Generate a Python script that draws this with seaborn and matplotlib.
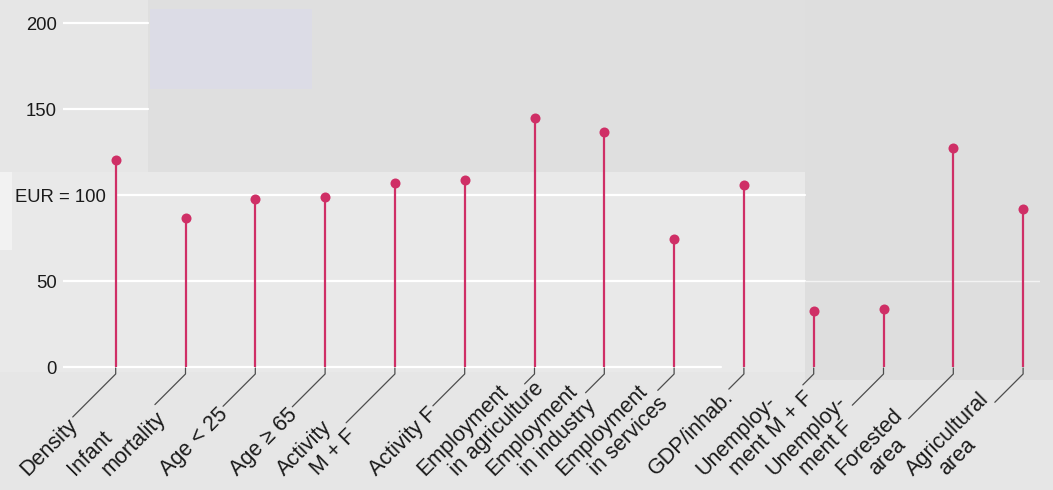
import numpy as np
import pandas as pd
import matplotlib
matplotlib.use("Agg")
import matplotlib.pyplot as plt
from matplotlib.patches import Rectangle
from matplotlib.lines import Line2D
from matplotlib.transforms import ScaledTranslation
import seaborn as sns

# === data (EUR = 100) ===
indicators = ["Density", "Infant\nmortality", "Age < 25", "Age ≥ 65",
              "Activity\nM + F", "Activity F", "Employment\nin agriculture",
              "Employment\nin industry", "Employment\nin services", "GDP/inhab.",
              "Unemploy-\nment M + F", "Unemploy-\nment F", "Forested\narea",
              "Agricultural\narea"]
values = [120.4, 86.4, 97.7, 98.7, 106.7, 108.6, 144.5, 136.4, 74.7, 105.6,
          32.6, 33.6, 127.3, 91.7]
y_ticks = [0, 50, 100, 150, 200]
y_tick_labels = ["0", "50", "EUR = 100", "150", "200"]

df = pd.DataFrame({"indicator": indicators, "value": values})

# === style ===
W, H = 1053, 490
FONT = ["Liberation Sans", "DejaVu Sans"]
FS = 13.3        # y tick labels
FS_LAB = 15.5    # category labels
stem_color = "#cf2f66"
bg = "#e6e6e6"

sns.set_style("white")
plt.rcParams["font.family"] = FONT

fig = plt.figure(figsize=(W / 100, H / 100), dpi=100, facecolor=bg)


def px_rect(x0, y0, x1, y1, color):
    # rectangle given in screen pixels (y down), drawn behind everything
    fig.patches.append(Rectangle((x0 / W, 1 - y1 / H), (x1 - x0) / W, (y1 - y0) / H,
                                 transform=fig.transFigure, color=color, zorder=-10, lw=0))


# scanned-page background tones
px_rect(0, 172, 805, 372, "#e9e9e9")
px_rect(0, 172, 12, 250, "#f2f2f2")
px_rect(148, 0, 1053, 172, "#dfdfdf")
px_rect(805, 0, 1053, 380, "#dedede")
px_rect(150, 9, 312, 89, "#dcdce6")

ax = fig.add_axes([63 / W, 1 - 372 / H, 977 / W, 372 / H])
ax.set_facecolor("none")

# partial white grid lines as in the scan
grid_spans = {200: (0, 0.087), 150: (0, 0.087), 100: (0.056, 0.759), 50: (0, 0.759), 0: (0, 0.674)}
for yv, (a, b) in grid_spans.items():
    ax.axhline(yv, a, b, color="white", lw=1.6, zorder=1)
ax.axhline(50, 0.759, 1, color="#f3f3f3", lw=1.0, zorder=1)

# === lollipops ===
ax.vlines(np.arange(len(df)), 0, df["value"], color=stem_color, lw=1.6, zorder=3)
sns.scatterplot(data=df, x="indicator", y="value", ax=ax, color=stem_color,
                s=52, linewidth=0, zorder=4, legend=False)

ax.set_xlim((63 - 115.7) / 69.8, (1040 - 115.7) / 69.8)
ax.set_ylim(-5 / 1.72, 200 + 23 / 1.72)
ax.set_xlabel("")
ax.set_ylabel("")
ax.tick_params(axis="x", labelbottom=False, length=0)
ax.tick_params(axis="y", length=0, pad=4.5, labelsize=FS, labelcolor="#1a1a1a")
ax.set_yticks(y_ticks)
ax.set_yticklabels(y_tick_labels)
for sp in ax.spines.values():
    sp.set_visible(False)

# move "EUR = 100" to the right, into the plot area
for lab in ax.get_yticklabels():
    if lab.get_text().startswith("EUR"):
        lab.set_transform(lab.get_transform() + ScaledTranslation(0.49, 0, fig.dpi_scale_trans))

# === rotated category labels with leader lines ===
renderer = fig.canvas.get_renderer()
r2 = np.sqrt(0.5)
dir_u = np.array([r2, -r2])   # along text, screen coords (y down)
dir_v = np.array([r2, r2])    # line advance
spacing, v_shift, y_start, gap, hook = 23.5, 10, 476, 2, 374


def to_fig(p):
    return p[0] / W, 1 - p[1] / H


for i, label in enumerate(indicators):
    x_t = ax.transData.transform((i, 0))[0]
    T = np.array([x_t, hook])
    lines = label.split("\n")
    n = len(lines)
    ends = []
    for k, line in enumerate(lines):
        v = (k - (n - 1) / 2) * spacing + v_shift - 4 * (n - 1)
        u = (T[1] + r2 * v - y_start) / r2
        start = T + u * dir_u + v * dir_v
        tmp = fig.text(0, 0, line, fontsize=FS_LAB)
        w = tmp.get_window_extent(renderer).width
        tmp.remove()
        fig.text(*to_fig(start), line, fontsize=FS_LAB, rotation=45, rotation_mode="anchor",
                 ha="left", va="baseline", color="#1a1a1a")
        ends.append(u + w)
    u_end = min(max(ends) + gap, -14)
    end = T + u_end * dir_u
    pts = [np.array([x_t, 368]), T, end]
    fig.lines.append(Line2D([to_fig(p)[0] for p in pts], [to_fig(p)[1] for p in pts],
                            transform=fig.transFigure, color="#4d4d4d", lw=0.9))

fig.savefig("out.png", dpi=100, facecolor=bg)
